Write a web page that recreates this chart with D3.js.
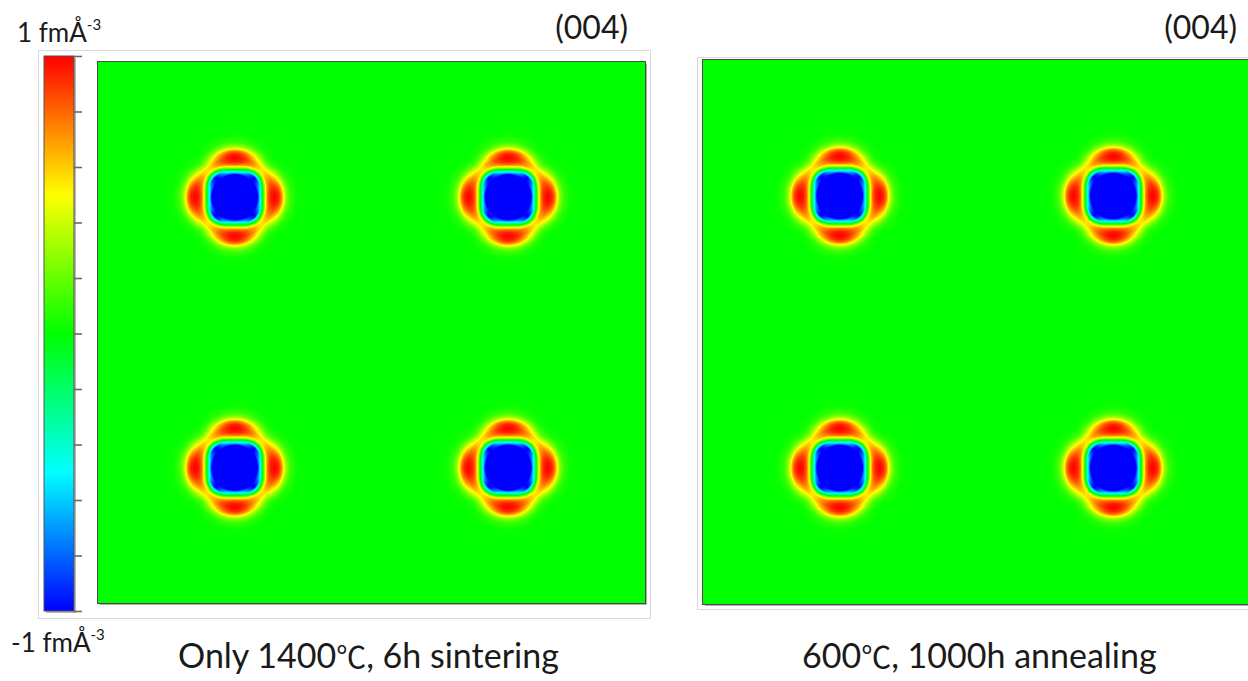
<!DOCTYPE html>
<html><head><meta charset="utf-8">
<script src="https://cdn.jsdelivr.net/npm/d3@7"></script>
<style>body{margin:0;background:#fff;overflow:hidden} svg{display:block}</style>
</head><body>
<svg id="chart" width="1248" height="681"></svg>
<script>
// ---------- data ----------
const colorValues = [-1, -0.5, 0, 0.5, 1];
const colorRange = ["#0000ff", "#00ffff", "#00ff00", "#ffff00", "#ff0000"];
const colorbarTicks = [-1, -0.8, -0.6, -0.4, -0.2, 0, 0.2, 0.4, 0.6, 0.8, 1];
const colorbarUnit = "fmÅ";
const colorbarExp = "-3";
const panelTitles = [["Only 1400", "℃", ", 6h sintering"], ["600", "℃", ", 1000h annealing"]];
const reflectionLabels = ["(004)", "(004)"];
// atom sites (fractional coordinates of the map)
const siteX = [0.25, 0.75, 0.25, 0.75];
const siteY = [0.25, 0.25, 0.75, 0.75];
// radial density profile along the cell axes (radius as fraction of cell, density fm/Å^3)
const axisRadius = [0, 0.0420, 0.0448, 0.0475, 0.0512, 0.0558, 0.0603, 0.0658, 0.0731, 0.0804, 0.0850, 0.0896, 0.0951, 0.1024, 0.1133, 0.1316];
const axisDensity = [-1, -1, -0.65, -0.4, 0, 0.45, 0.8, 0.95, 1, 0.93, 0.78, 0.5, 0.25, 0.1, 0.02, 0];
// radial density profile along the diagonals
const diagRadius = [0, 0.0512, 0.0539, 0.0567, 0.0594, 0.0631, 0.0668, 0.0731, 0.0804, 0.0878, 0.0987, 0.1133];
const diagDensity = [-1, -1, -0.6, -0.3, 0, 0.4, 0.55, 0.55, 0.32, 0.12, 0.02, 0];

// ---------- drawing ----------
const svg = d3.select("#chart");
const color = d3.scaleLinear().domain(colorValues).range(colorRange).clamp(true);
const axisProfile = d3.scaleLinear().domain(axisRadius).range(axisDensity).clamp(true);
const diagProfile = d3.scaleLinear().domain(diagRadius).range(diagDensity).clamp(true);

function density(fx, fy) {
  let v = 0;
  for (let i = 0; i < siteX.length; i++) {
    const dx = fx - siteX[i], dy = fy - siteY[i];
    const r = Math.hypot(dx, dy);
    if (r > 0.14) continue;
    const th = Math.atan2(dy, dx);
    const w = Math.pow((1 + Math.cos(4 * th)) / 2, 0.8);
    v += w * axisProfile(r) + (1 - w) * diagProfile(r);
  }
  return Math.max(-1, Math.min(1, v));
}

const fontText = "Lato, 'Open Sans', sans-serif";

const panels = [
  {frame: [38.5, 50.5, 612, 568], map: [98, 62, 547, 541]},
  {frame: [697.5, 57.5, 600, 552], map: [703, 60, 547, 544]}
];

panels.forEach((p, k) => {
  svg.append("rect").attr("x", p.frame[0]).attr("y", p.frame[1])
    .attr("width", p.frame[2]).attr("height", p.frame[3])
    .attr("fill", "none").attr("stroke", "#d9d9d9").attr("stroke-width", 1);
  const [mx, my, mw, mh] = p.map;
  const xs = d3.scaleLinear().domain([0, 1]).range([mx, mx + mw]);
  const ys = d3.scaleLinear().domain([0, 1]).range([my, my + mh]);
  const canvas = document.createElement("canvas");
  canvas.width = mw; canvas.height = mh;
  const ctx = canvas.getContext("2d");
  const img = ctx.createImageData(mw, mh);
  for (let j = 0; j < mh; j++) {
    const fy = ys.invert(my + j + 0.5);
    for (let i = 0; i < mw; i++) {
      const fx = xs.invert(mx + i + 0.5);
      const c = d3.rgb(color(density(fx, fy)));
      const o = (j * mw + i) * 4;
      img.data[o] = c.r; img.data[o + 1] = c.g; img.data[o + 2] = c.b; img.data[o + 3] = 255;
    }
  }
  ctx.putImageData(img, 0, 0);
  // shadow
  svg.append("rect").attr("x", mx + 2).attr("y", my + 2).attr("width", mw).attr("height", mh)
    .attr("fill", "#b0b0b0");
  svg.append("image").attr("x", mx).attr("y", my).attr("width", mw).attr("height", mh)
    .attr("preserveAspectRatio", "none").attr("href", canvas.toDataURL());
  svg.append("rect").attr("x", mx - 0.5).attr("y", my - 0.5).attr("width", mw + 1).attr("height", mh + 1)
    .attr("fill", "none").attr("stroke", "#4a4a4a").attr("stroke-width", 1);

  // reflection label
  svg.append("text").attr("x", k === 0 ? 628 : 1237).attr("y", 39)
    .attr("text-anchor", "end").attr("font-family", fontText).attr("font-size", 32)
    .attr("fill", "#1a1a1a").text(reflectionLabels[k]);

  // title
  const t = svg.append("text").attr("x", k === 0 ? 178 : 802).attr("y", 668)
    .attr("font-family", fontText).attr("font-size", 34).attr("fill", "#1a1a1a");
  t.append("tspan").text(panelTitles[k][0]);
  t.append("tspan").attr("font-family", "'Noto Sans CJK JP', sans-serif").attr("font-size", 30).text(panelTitles[k][1]);
  t.append("tspan").text(panelTitles[k][2]);
});

// ---------- colorbar ----------
const cbX = 44, cbW = 30, cbTop = 56, cbBottom = 611;
const cbScale = d3.scaleLinear().domain([-1, 1]).range([cbBottom, cbTop]);
const defs = svg.append("defs");
const grad = defs.append("linearGradient").attr("id", "cbgrad")
  .attr("x1", 0).attr("y1", 1).attr("x2", 0).attr("y2", 0);
colorValues.forEach((v, i) => {
  grad.append("stop").attr("offset", (v + 1) / 2).attr("stop-color", colorRange[i]);
});
svg.append("rect").attr("x", cbX + 2).attr("y", cbTop + 2).attr("width", cbW).attr("height", cbBottom - cbTop)
  .attr("fill", "#b8b8b8");
svg.append("rect").attr("x", cbX).attr("y", cbTop).attr("width", cbW).attr("height", cbBottom - cbTop)
  .attr("fill", "url(#cbgrad)").attr("stroke", "#555").attr("stroke-width", 1);
const cbAxis = d3.axisRight(cbScale).tickValues(colorbarTicks).tickSize(8).tickFormat("");
const ag = svg.append("g").attr("transform", `translate(${cbX + cbW},0)`).call(cbAxis);
ag.select(".domain").remove();
ag.selectAll(".tick line").attr("stroke", "#6a6a6a").attr("stroke-width", 1.6);

function unitLabel(x, y, prefix) {
  const t = svg.append("text").attr("x", x).attr("y", y)
    .attr("font-family", fontText).attr("font-size", 26).attr("fill", "#1a1a1a");
  t.append("tspan").text(prefix + " " + colorbarUnit);
  t.append("tspan").attr("font-size", 15).attr("dy", -12).text(colorbarExp);
}
unitLabel(17, 42, colorbarTicks[colorbarTicks.length - 1]);
unitLabel(11, 652, colorbarTicks[0]);
</script>
</body></html>
